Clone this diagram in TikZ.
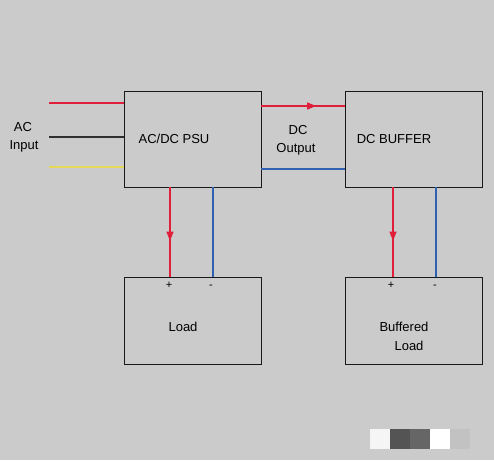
\documentclass[tikz,border=0pt]{standalone}
\usepackage{fontspec}
\setmainfont{Liberation Sans}
\usetikzlibrary{arrows.meta,decorations.markings}
\definecolor{bg}{HTML}{CBCBCB}
\definecolor{wred}{HTML}{E0203A}
\definecolor{wblue}{HTML}{3060B0}
\definecolor{wyel}{HTML}{E6D858}
\definecolor{wblack}{HTML}{303030}
\tikzset{
  blk/.style={draw=black!90, line width=0.9pt, inner sep=0pt},
  wire/.style={line width=1.2pt},
  lbl/.style={font=\fontsize{13}{16}\selectfont, inner sep=0pt, align=center},
  sgn/.style={font=\fontsize{11}{13}\selectfont, inner sep=0pt},
  midarrow/.style={postaction={decorate}, decoration={markings, mark=at position #1 with {\arrow{Triangle[length=9pt,width=7pt]}}}}
}
\begin{document}
\begin{tikzpicture}[x=1pt,y=-1pt]
\fill[bg] (0,0) rectangle (494,460);
\useasboundingbox (0,0) rectangle (494,460);
% boxes
\node[blk, minimum width=137pt, minimum height=96pt] (psu) at (192.5,139) {};
\node[blk, minimum width=137pt, minimum height=96pt] (buf) at (413.5,139) {};
\node[blk, minimum width=137pt, minimum height=87pt] (load) at (192.5,320.5) {};
\node[blk, minimum width=137pt, minimum height=87pt] (bload) at (413.5,320.5) {};
% texts
\node[lbl] (psut) at (174,139) {AC/DC PSU};
\node[lbl] (buft) at (394,139) {DC BUFFER};
\node[lbl] (loadt) at (183,327) {Load};
\node[lbl] (bl1) at (404,327) {Buffered};
\node[lbl] (bl2) at (409,346) {Load};
\node[lbl] (ac1) at (23,127) {AC};
\node[lbl] (ac2) at (24,146) {Input};
\node[lbl] (dc1) at (298,130) {DC};
\node[lbl] (dc2) at (296,149) {Output};
\node[sgn] (p1) at (169,285) {+};
\node[sgn] (m1) at (211,287) {-};
\node[sgn] (p2) at (391,285) {+};
\node[sgn] (m2) at (435,287) {-};
% input wires
\coordinate (inr) at (49,103);
\coordinate (ink) at (49,137);
\coordinate (iny) at (49,167);
\draw[wire, wred] (inr) -- (inr -| psu.west);
\draw[wire, wblack] (ink) -- (ink -| psu.west);
\draw[wire, wyel] (iny) -- (iny -| psu.west);
% DC output
\coordinate (dcr) at (261,106);
\coordinate (dcb) at (261,169);
\draw[wire, wred, midarrow=0.66] (dcr) -- (dcr -| buf.west);
\draw[wire, wblue] (dcb) -- (dcb -| buf.west);
% down wires
\coordinate (r1) at (170,187);
\coordinate (b1) at (213,187);
\coordinate (r2) at (393,187);
\coordinate (b2) at (436,187);
\draw[wire, wred, midarrow=0.6] (r1) -- (r1 |- load.north);
\draw[wire, wblue] (b1) -- (b1 |- load.north);
\draw[wire, wred, midarrow=0.6] (r2) -- (r2 |- bload.north);
\draw[wire, wblue] (b2) -- (b2 |- bload.north);
% corner squares
\fill[white!96!black] (370,429) rectangle (390,449);
\fill[black!67] (390,429) rectangle (410,449);
\fill[black!60] (410,429) rectangle (430,449);
\fill[white] (430,429) rectangle (450,449);
\fill[black!24] (450,429) rectangle (470,449);
\end{tikzpicture}
\end{document}
